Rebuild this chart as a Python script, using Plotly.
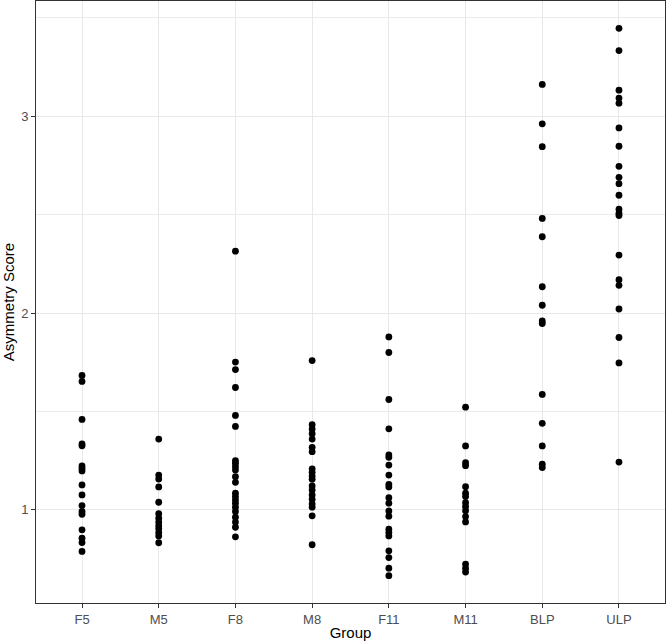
import plotly.graph_objects as go

groups = ["F5", "M5", "F8", "M8", "F11", "M11", "BLP", "ULP"]

F5 = [1.683, 1.653, 1.460, 1.335, 1.326, 1.223, 1.211, 1.198, 1.127, 1.076, 1.022,
      0.992, 0.978, 0.899, 0.856, 0.834, 0.789]
M5 = [1.360, 1.177, 1.157, 1.117, 1.039, 0.981, 0.958, 0.938, 0.920, 0.904, 0.885,
      0.868, 0.833]
F8 = [2.315, 1.751, 1.713, 1.622, 1.480, 1.424, 1.250, 1.237, 1.220, 1.203, 1.169,
      1.140, 1.085, 1.068, 1.051, 1.034, 1.014, 0.992, 0.963, 0.938, 0.912, 0.863]
M8 = [1.759, 1.433, 1.411, 1.387, 1.360, 1.318, 1.296, 1.209, 1.191, 1.172, 1.156,
      1.122, 1.101, 1.076, 1.054, 1.030, 1.014, 0.970, 0.823]
F11 = [1.879, 1.800, 1.561, 1.412, 1.280, 1.267, 1.228, 1.177, 1.130, 1.117, 1.062,
       1.034, 0.995, 0.968, 0.902, 0.885, 0.868, 0.792, 0.758, 0.704, 0.666]
M11 = [1.522, 1.325, 1.240, 1.225, 1.118, 1.085, 1.068, 1.037, 1.017, 0.996, 0.966,
       0.939, 0.725, 0.704, 0.684]
BLP = [3.162, 2.962, 2.846, 2.481, 2.388, 2.134, 2.040, 1.960, 1.947, 1.587, 1.440,
       1.325, 1.232, 1.215]
ULP = [3.447, 3.334, 3.133, 3.093, 3.067, 2.941, 2.848, 2.746, 2.690, 2.658, 2.599,
       2.528, 2.508, 2.496, 2.295, 2.170, 2.141, 2.021, 1.876, 1.747, 1.243]

series = [F5, M5, F8, M8, F11, M11, BLP, ULP]

xs, ys = [], []
for g, vals in zip(groups, series):
    xs += [g] * len(vals)
    ys += vals

all_vals = [v for s in series for v in s]
lo, hi = min(all_vals), max(all_vals)
pad = 0.05 * (hi - lo)

fig = go.Figure(go.Scatter(
    x=xs, y=ys, mode="markers",
    marker=dict(color="black", size=6.8, line=dict(width=0)),
    showlegend=False, hoverinfo="skip"))

axis_common = dict(
    showline=True, linecolor="#333333", linewidth=1, mirror=True,
    ticks="outside", ticklen=4, tickcolor="#333333", tickwidth=1,
    tickfont=dict(family="Liberation Sans, Arial", size=13, color="#4D4D4D"),
    gridcolor="#E8E8E8", gridwidth=1, zeroline=False, automargin=False,
    title_font=dict(family="Liberation Sans, Arial", size=15, color="black"),
)

fig.update_xaxes(
    **axis_common,
    type="category", categoryorder="array", categoryarray=groups,
    range=[-0.6, len(groups) - 1 + 0.6],
    title_text="Group", title_standoff=2,
)
fig.update_yaxes(
    **axis_common,
    range=[lo - pad, hi + pad],
    tickvals=[1, 2, 3],
    minor=dict(tickvals=[1.5, 2.5, 3.5], showgrid=True, gridcolor="#EBEBEB",
               gridwidth=0.6, ticks=""),
    title_text="Asymmetry Score", title_standoff=2,
)

fig.update_layout(
    width=666, height=641,
    margin=dict(l=36, r=1, t=1, b=38, pad=0),
    plot_bgcolor="white", paper_bgcolor="white",
    font=dict(family="Liberation Sans, Arial"),
)

fig.write_html("out.html", config={"displayModeBar": False},
               post_script="document.body.style.margin='0';document.body.style.padding='0';")
